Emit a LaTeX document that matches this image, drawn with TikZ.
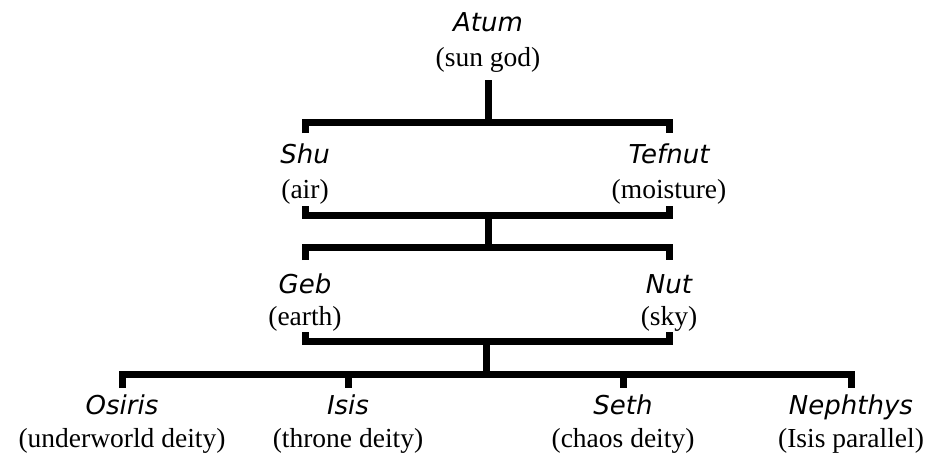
\documentclass[tikz,border=0pt]{standalone}
\usepackage{fontspec}
\setmainfont{Liberation Serif}
\newfontfamily\namefont{DejaVu Sans}
\begin{document}
\begin{tikzpicture}[x=1pt,y=-1pt,
  godname/.style={anchor=base,inner sep=0pt,font=\namefont\itshape\fontsize{26}{30}\selectfont},
  godrole/.style={anchor=base,inner sep=0pt,font=\fontsize{27.5}{32}\selectfont},
  conn/.style={line width=7pt,line join=miter,line cap=butt}]
\useasboundingbox (0,0) rectangle (928,464);

% generation 1
\node[godname] (atum)  at (488,31)  {Atum};
\node[godrole] (atumd) at (488,66)  {(sun god)};
% generation 2
\node[godname] (shu)   at (305,163) {Shu};
\node[godrole] (shud)  at (305,198) {(air)};
\node[godname] (tef)   at (669,163) {Tefnut};
\node[godrole] (tefd)  at (669,198) {(moisture)};
% generation 3
\node[godname] (geb)   at (305,293) {Geb};
\node[godrole] (gebd)  at (305,325) {(earth)};
\node[godname] (nut)   at (669,293) {Nut};
\node[godrole] (nutd)  at (669,325) {(sky)};
% generation 4
\node[godname] (osi)   at (122,414) {Osiris};
\node[godrole] (osid)  at (122,447) {(underworld deity)};
\node[godname] (isis)  at (348,414) {Isis};
\node[godrole] (isisd) at (348,447) {(throne deity)};
\node[godname] (seth)  at (623,414) {Seth};
\node[godrole] (sethd) at (623,447) {(chaos deity)};
\node[godname] (neph)  at (851,414) {Nephthys};
\node[godrole] (nephd) at (851,447) {(Isis parallel)};

% junction points of the family tree
\coordinate (a1) at (488,80);
\coordinate (h1) at (488,122);
\coordinate (t1) at (0,133);
\coordinate (t2) at (0,206);
\coordinate (h2) at (488,215);
\coordinate (h3) at (488,247);
\coordinate (t3) at (0,260);
\coordinate (t4) at (0,332);
\coordinate (h4) at (486,341);
\coordinate (h5) at (486,374);
\coordinate (t5) at (0,388);

% Atum -> Shu & Tefnut
\draw[conn] (a1) -- (h1);
\draw[conn] (shu |- t1) |- (h1) -| (tef |- t1);
% Shu & Tefnut -> Geb & Nut
\draw[conn] (shud |- t2) |- (h2) -| (tefd |- t2);
\draw[conn] (h2) -- (h3);
\draw[conn] (geb |- t3) |- (h3) -| (nut |- t3);
% Geb & Nut -> four children
\draw[conn] (gebd |- t4) |- (h4) -| (nutd |- t4);
\draw[conn] (h4) -- (h5);
\draw[conn] (osi |- t5) |- (h5) -| (neph |- t5);
\draw[conn] (h5 -| isis) -- (isis |- t5);
\draw[conn] (h5 -| seth) -- (seth |- t5);
\end{tikzpicture}
\end{document}
